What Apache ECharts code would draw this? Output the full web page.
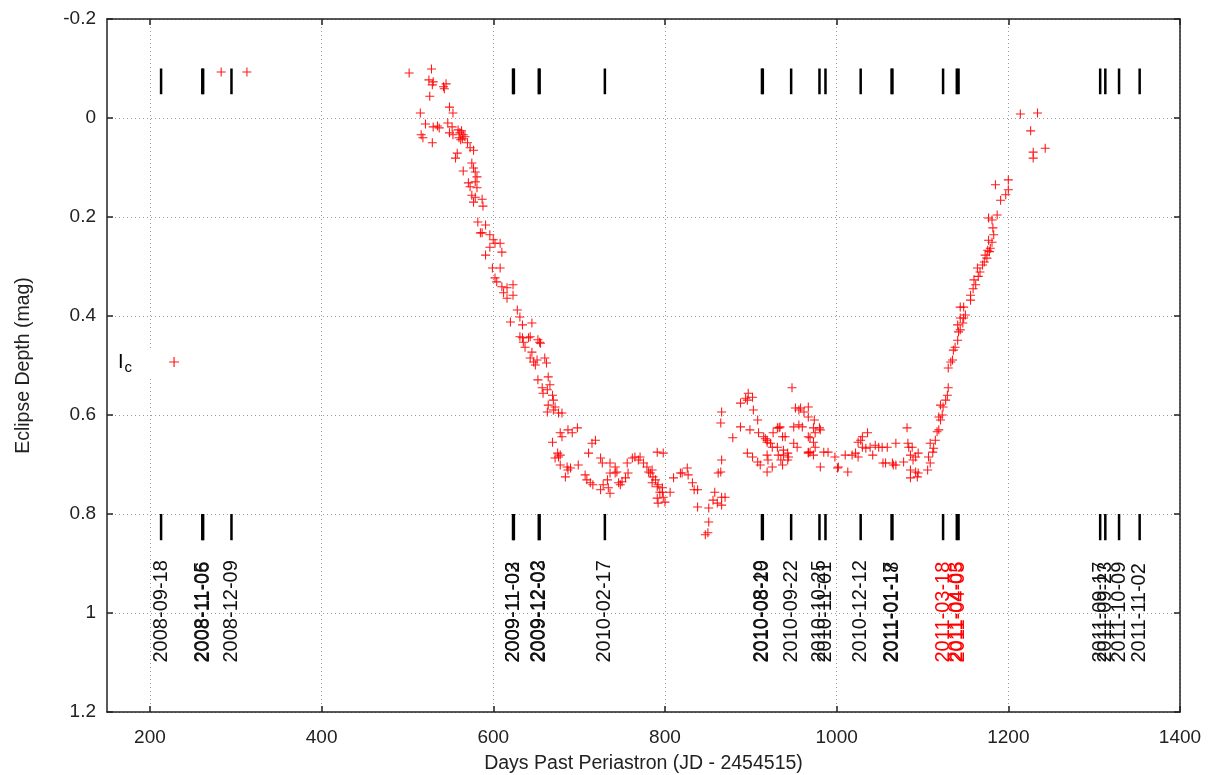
<!DOCTYPE html>
<html>
<head>
<meta charset="utf-8">
<script src="https://cdn.jsdelivr.net/npm/echarts@6/dist/echarts.min.js"></script>
<style>
html, body { margin: 0; padding: 0; background: #fff; }
#chart { width: 1224px; height: 775px; }
</style>
</head>
<body>
<div id="chart"></div>
<script>
// axis ticks
const xTicks = [200, 400, 600, 800, 1000, 1200, 1400]

// observation dates marked on the plot (days past periastron)
const eventDays = [213, 261, 262, 295, 623, 624, 653, 654, 730, 913, 914, 947, 980, 987,
    1028, 1064, 1065, 1124, 1140, 1142, 1307, 1313, 1329, 1353]
const eventLabels = ['2008-09-18', '2008-11-05', '2008-11-06', '2008-12-09', '2009-11-02', '2009-11-03',
    '2009-12-02', '2009-12-03', '2010-02-17', '2010-08-19', '2010-08-20', '2010-09-22', '2010-10-25',
    '2010-11-01', '2010-12-12', '2011-01-17', '2011-01-18', '2011-03-18', '2011-04-03', '2011-04-05',
    '2011-09-17', '2011-09-23', '2011-10-09', '2011-11-02']
const redLabels = ['2011-03-18', '2011-04-03', '2011-04-05']
const tickSpans = [[-0.1, -0.048], [0.8, 0.853]]
const labelDepth = 1.1

// Ic eclipse depth [day, mag]
const icPoints = [
    [283, -0.093], [313, -0.093],
    [502, -0.091], [528, -0.099], [525, -0.077], [530, -0.073], [529, -0.067], [542, -0.063], [545, -0.069],
    [543, -0.059], [526, -0.044], [549, -0.022], [553, -0.010], [515, -0.010], [521, 0.012], [535, 0.016],
    [537, 0.020], [530, 0.018], [516, 0.034], [518, 0.040], [529, 0.050], [547, 0.010], [552, 0.018],
    [549, 0.030], [553, 0.034], [559, 0.024], [561, 0.030], [563, 0.026], [565, 0.034], [560, 0.040],
    [564, 0.042], [567, 0.038], [562, 0.044], [570, 0.050], [573, 0.060], [577, 0.065], [558, 0.071],
    [556, 0.081], [575, 0.091], [577, 0.101], [565, 0.107], [579, 0.109], [581, 0.119], [579, 0.129],
    [571, 0.131], [573, 0.139], [581, 0.141], [575, 0.156], [579, 0.160], [587, 0.164], [577, 0.170],
    [588, 0.178], [582, 0.210], [591, 0.216], [585, 0.232], [587, 0.232], [596, 0.236], [600, 0.246],
    [602, 0.253], [608, 0.253], [596, 0.261], [610, 0.271], [591, 0.277], [599, 0.303], [608, 0.303],
    [602, 0.323], [604, 0.331], [610, 0.341], [616, 0.343], [623, 0.337], [612, 0.353], [616, 0.364],
    [623, 0.358], [628, 0.388], [631, 0.402], [620, 0.412], [634, 0.418], [645, 0.414], [631, 0.442],
    [641, 0.444], [654, 0.453], [637, 0.463], [634, 0.444], [643, 0.442], [635, 0.453], [652, 0.448],
    [655, 0.455], [645, 0.473], [643, 0.485], [647, 0.493], [649, 0.499], [651, 0.489], [660, 0.485],
    [662, 0.495], [652, 0.529], [664, 0.523], [657, 0.545], [663, 0.549], [666, 0.539], [658, 0.556],
    [669, 0.560], [670, 0.570], [664, 0.580], [672, 0.584], [663, 0.594], [676, 0.596], [680, 0.596],
    [670, 0.590], [669, 0.655], [678, 0.636], [680, 0.644], [687, 0.630], [692, 0.636], [698, 0.626],
    [675, 0.677], [678, 0.681], [676, 0.685], [672, 0.687], [678, 0.701], [686, 0.705], [687, 0.711],
    [690, 0.707], [684, 0.725], [699, 0.701], [707, 0.721], [709, 0.731], [713, 0.737], [716, 0.741],
    [711, 0.677], [715, 0.657], [719, 0.651], [725, 0.687], [727, 0.697], [733, 0.731], [734, 0.747],
    [725, 0.751], [728, 0.741], [736, 0.758], [736, 0.697], [742, 0.705], [744, 0.715], [746, 0.737],
    [748, 0.741], [750, 0.735], [754, 0.727], [757, 0.717], [756, 0.697], [762, 0.687], [765, 0.685],
    [769, 0.691], [771, 0.685], [775, 0.697], [742, 0.717], [736, 0.717], [779, 0.705], [781, 0.715],
    [783, 0.717], [785, 0.711], [786, 0.725], [789, 0.731], [785, 0.737], [791, 0.745], [792, 0.741],
    [797, 0.747], [794, 0.756], [798, 0.766], [791, 0.768], [792, 0.778], [800, 0.776], [797, 0.756],
    [791, 0.675], [798, 0.677], [810, 0.727], [818, 0.717], [826, 0.707], [827, 0.721], [832, 0.737],
    [834, 0.751], [838, 0.751], [820, 0.717], [806, 0.756], [838, 0.786], [851, 0.788], [851, 0.816],
    [850, 0.838], [847, 0.842], [856, 0.772], [861, 0.778], [858, 0.756], [866, 0.766], [870, 0.766],
    [866, 0.782], [865, 0.715], [862, 0.717], [866, 0.691], [865, 0.616], [866, 0.594], [879, 0.646],
    [888, 0.624], [899, 0.630], [896, 0.570], [897, 0.556], [894, 0.566], [888, 0.576], [902, 0.564],
    [903, 0.590], [908, 0.610], [896, 0.677], [902, 0.685], [908, 0.695], [911, 0.701], [909, 0.636],
    [915, 0.644], [919, 0.651], [923, 0.657], [926, 0.636], [931, 0.626], [933, 0.626], [934, 0.624],
    [917, 0.648], [919, 0.655], [925, 0.665], [919, 0.681], [920, 0.691], [919, 0.715], [925, 0.705],
    [931, 0.665], [937, 0.644], [940, 0.644], [932, 0.681], [938, 0.681], [944, 0.685], [935, 0.691],
    [943, 0.691], [937, 0.701], [943, 0.677], [938, 0.671], [948, 0.545], [952, 0.586], [958, 0.586],
    [962, 0.594], [967, 0.584], [956, 0.590], [950, 0.624], [956, 0.620], [960, 0.624], [967, 0.604],
    [973, 0.626], [974, 0.610], [980, 0.626], [950, 0.657], [954, 0.665], [967, 0.644], [969, 0.646],
    [973, 0.655], [975, 0.665], [967, 0.675], [967, 0.677], [973, 0.681], [969, 0.675], [975, 0.636],
    [981, 0.630], [981, 0.705], [985, 0.675], [990, 0.675], [998, 0.685], [1002, 0.705], [1001, 0.707],
    [1013, 0.715], [1010, 0.681], [1018, 0.681], [1022, 0.677], [1025, 0.655], [1030, 0.644], [1036, 0.636],
    [1030, 0.665], [1039, 0.665], [1045, 0.661], [1049, 0.665], [1053, 0.665], [1059, 0.665], [1054, 0.697],
    [1065, 0.697], [1069, 0.657], [1066, 0.701], [1025, 0.685], [1028, 0.651], [1034, 0.667], [1042, 0.681],
    [1057, 0.697], [1069, 0.701], [1078, 0.695], [1082, 0.626], [1083, 0.657], [1084, 0.665], [1088, 0.665],
    [1086, 0.681], [1092, 0.685], [1095, 0.677], [1089, 0.691], [1086, 0.711], [1092, 0.715], [1095, 0.717],
    [1086, 0.727], [1094, 0.725], [1106, 0.711], [1109, 0.697], [1107, 0.685], [1112, 0.675], [1113, 0.667],
    [1109, 0.657], [1115, 0.651], [1117, 0.634], [1119, 0.630], [1121, 0.610], [1119, 0.604], [1123, 0.600],
    [1124, 0.584], [1121, 0.580], [1127, 0.570], [1129, 0.560], [1130, 0.545], [1130, 0.505], [1133, 0.493],
    [1135, 0.489], [1136, 0.469], [1138, 0.463], [1141, 0.449], [1142, 0.432], [1144, 0.428], [1141, 0.418],
    [1147, 0.414], [1148, 0.404], [1144, 0.404], [1150, 0.398], [1144, 0.382], [1148, 0.382], [1156, 0.368],
    [1156, 0.358], [1159, 0.345], [1162, 0.337], [1160, 0.327], [1165, 0.320], [1167, 0.311], [1164, 0.303],
    [1170, 0.297], [1172, 0.291], [1175, 0.283], [1173, 0.277], [1178, 0.270], [1176, 0.267], [1179, 0.263],
    [1181, 0.251], [1177, 0.247], [1183, 0.236], [1182, 0.222], [1177, 0.202], [1181, 0.206], [1187, 0.196],
    [1191, 0.166], [1185, 0.135], [1200, 0.125], [1200, 0.145], [1197, 0.155],
    [1214, -0.008], [1234, -0.010], [1226, 0.026], [1229, 0.069], [1229, 0.081], [1243, 0.061]
]

const font = '"Liberation Sans", Arial, sans-serif'
const plus = 'path://M0,4.4H10V5.6H0Z M4.4,0H5.6V10H4.4Z'
const gridLine = { show: true, lineStyle: { color: '#9a9a9a', type: [1, 3], width: 1 } }
const frame = { show: true, onZero: false, lineStyle: { color: '#222', width: 1.5 } }
const inTick = { show: true, inside: true, length: 6, lineStyle: { color: '#222', width: 1.5 } }

var myChart = echarts.init(document.getElementById('chart'))

var option = {
    animation: false,
    backgroundColor: '#fff',
    grid: { left: 107, right: 44, top: 19, bottom: 63, outerBoundsMode: 'none', containLabel: false },
    legend: {
        left: 114,
        top: 350,
        align: 'right',
        selectedMode: false,
        backgroundColor: '#fff',
        padding: [2, 4],
        itemWidth: 10,
        itemHeight: 10,
        data: [{ name: 'Ic', icon: plus, itemStyle: { color: '#ff0000' } }],
        formatter: () => '{a|I}{b|c}',
        textStyle: {
            rich: {
                a: { fontFamily: font, fontSize: 20, color: '#000' },
                b: { fontFamily: font, fontSize: 15, color: '#000', padding: [12, 32, 0, 1] }
            }
        }
    },
    xAxis: [{
        type: 'value',
        min: 150,
        max: 1400,
        name: 'Days Past Periastron (JD - 2454515)',
        nameLocation: 'middle',
        nameGap: 42,
        nameTextStyle: { fontFamily: font, fontSize: 19.5, color: '#222' },
        axisLine: frame,
        axisTick: Object.assign({ customValues: xTicks }, inTick),
        axisLabel: { customValues: xTicks, formatter: v => String(v), fontFamily: font, fontSize: 19, color: '#222', margin: 16 },
        splitLine: gridLine
    }, {
        type: 'value',
        position: 'top',
        min: 150,
        max: 1400,
        axisLine: frame,
        axisTick: Object.assign({ customValues: xTicks }, inTick),
        axisLabel: { show: false },
        splitLine: { show: false }
    }],
    yAxis: [{
        type: 'value',
        inverse: true,
        min: -0.2,
        max: 1.2,
        interval: 0.2,
        name: 'Eclipse Depth (mag)',
        nameLocation: 'middle',
        nameGap: 73,
        nameTextStyle: { fontFamily: font, fontSize: 19.5, color: '#222' },
        axisLine: frame,
        axisTick: inTick,
        axisLabel: { fontFamily: font, fontSize: 19, color: '#222', margin: 11 },
        splitLine: gridLine
    }, {
        type: 'value',
        position: 'right',
        inverse: true,
        min: -0.2,
        max: 1.2,
        interval: 0.2,
        axisLine: frame,
        axisTick: inTick,
        axisLabel: { show: false },
        splitLine: { show: false }
    }],
    series: [{
        type: 'custom',
        name: 'events',
        data: eventDays.map(d => [d, labelDepth]),
        encode: { x: 0, y: 1 },
        z: 3,
        renderItem: (params, api) => {
            const d = api.value(0)
            const text = eventLabels[params.dataIndex]
            const children = tickSpans.map(([y0, y1]) => {
                const a = api.coord([d, y0])
                const b = api.coord([d, y1])
                return {
                    type: 'line',
                    shape: { x1: a[0], y1: a[1], x2: b[0], y2: b[1] },
                    style: { stroke: '#000', lineWidth: 2.5 }
                }
            })
            const p = api.coord([d, api.value(1)])
            children.push({
                type: 'text',
                x: p[0],
                y: p[1],
                rotation: Math.PI / 2,
                style: {
                    text,
                    fill: redLabels.includes(text) ? '#ff0000' : '#111',
                    font: '20px ' + font,
                    align: 'left',
                    verticalAlign: 'middle'
                }
            })
            return { type: 'group', children }
        }
    }, {
        type: 'scatter',
        name: 'Ic',
        data: icPoints,
        symbol: plus,
        symbolSize: 9,
        z: 4,
        itemStyle: { color: '#ff0000', opacity: 0.9 }
    }]
}
myChart.setOption(option)
</script>
</body>
</html>
